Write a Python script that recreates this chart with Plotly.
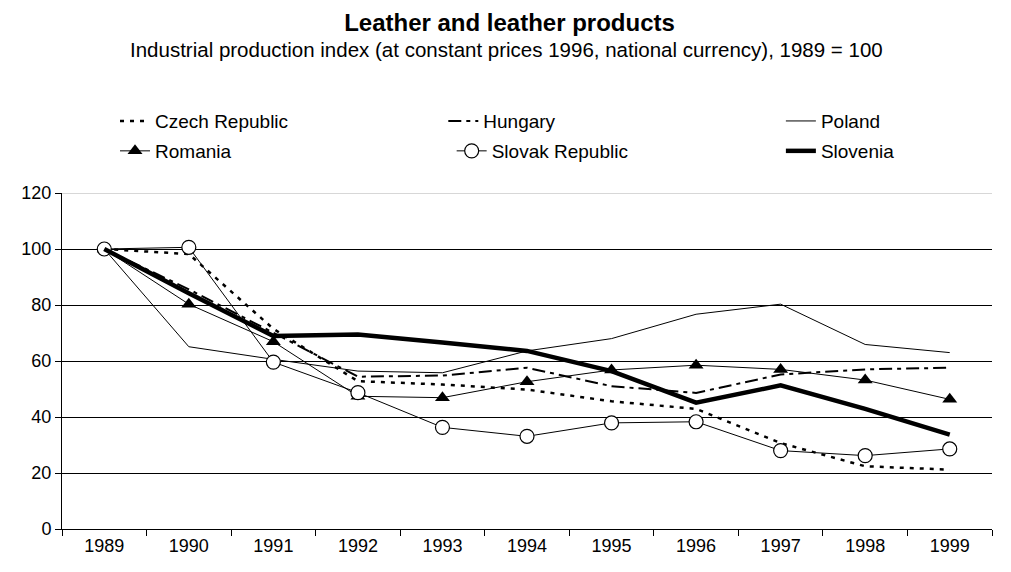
import plotly.graph_objects as go

years = ["1989", "1990", "1991", "1992", "1993", "1994", "1995", "1996", "1997", "1998", "1999"]

czech = [100, 98.2, 71.5, 52.8, 51.6, 49.8, 45.6, 42.9, 30.7, 22.4, 21.2]
hungary = [100, 85.6, 70.1, 54.4, 54.8, 57.6, 51.0, 48.6, 55.2, 57.0, 57.6]
poland = [100, 65.1, 60.6, 56.4, 55.8, 63.6, 68.0, 76.7, 80.3, 65.9, 63.0]
romania = [100, 80.3, 66.9, 47.4, 46.9, 52.6, 56.8, 58.5, 57.0, 53.2, 46.3]
slovak = [100, 100.6, 59.6, 48.7, 36.3, 33.1, 37.9, 38.3, 28.0, 26.2, 28.6]
slovenia = [100, 84.2, 68.9, 69.5, 66.6, 63.6, 56.4, 45.1, 51.3, 42.9, 33.7]

fig = go.Figure()

fig.add_trace(go.Scatter(x=years, y=czech, name="Czech Republic", mode="lines", legend="legend",
                         line=dict(color="black", width=2.5, dash="4px,6px")))
fig.add_trace(go.Scatter(x=years, y=hungary, name="Hungary", mode="lines", legend="legend2",
                         line=dict(color="black", width=2, dash="13px,5px,4px,5px")))
fig.add_trace(go.Scatter(x=years, y=poland, name="Poland", mode="lines", legend="legend3",
                         line=dict(color="black", width=1)))
fig.add_trace(go.Scatter(x=years, y=romania, name="Romania", mode="lines+markers", legend="legend4",
                         line=dict(color="black", width=1),
                         marker=dict(symbol="triangle-up", size=13, color="black")))
fig.add_trace(go.Scatter(x=years, y=slovak, name="Slovak Republic", mode="lines+markers", legend="legend5",
                         line=dict(color="black", width=1),
                         marker=dict(symbol="circle", size=14, color="white",
                                     line=dict(color="black", width=1.2))))
fig.add_trace(go.Scatter(x=years, y=slovenia, name="Slovenia", mode="lines", legend="legend6",
                         line=dict(color="black", width=4.5)))
fig.update_traces(showlegend=True)

# one small legend per entry so the 3 x 2 grid sits where the original has it
leg = dict(font=dict(size=19), yanchor="middle", xanchor="left", bgcolor="rgba(0,0,0,0)",
           itemclick=False, itemdoubleclick=False)

# page body has an 8px margin, so the figure is 8px smaller than the window
fig.update_layout(
    width=1003, height=564,
    margin=dict(l=54, r=19, t=185, b=43),
    showlegend=True,
    paper_bgcolor="white",
    plot_bgcolor="white",
    font=dict(family="Liberation Sans, Arial, sans-serif", color="black", size=18),
    title=dict(
        text="<b>Leather and leather products</b>",
        x=0.5, xanchor="center", y=1 - 15 / 564, yanchor="middle",
        font=dict(size=24),
    ),
    legend=dict(leg, x=0.057, y=1.214),
    legend2=dict(leg, x=0.41, y=1.214),
    legend3=dict(leg, x=0.773, y=1.214),
    legend4=dict(leg, x=0.057, y=1.125),
    legend5=dict(leg, x=0.419, y=1.125),
    legend6=dict(leg, x=0.773, y=1.125),
    xaxis=dict(
        type="category", range=[-0.5, 10.5], showline=True, linecolor="black", linewidth=1,
        ticks="outside", tickson="boundaries", ticklen=6, tickcolor="black",
        showgrid=False, tickfont=dict(size=18),
    ),
    yaxis=dict(
        range=[0, 120], dtick=20, showline=True, linecolor="black", linewidth=1,
        ticks="outside", ticklen=6, tickcolor="black",
        gridcolor="black", gridwidth=1, zeroline=False, tickfont=dict(size=18),
    ),
    annotations=[dict(
        text="Industrial production index (at constant prices 1996, national currency), 1989 = 100",
        xref="paper", yref="paper", x=(506 - 62) / 930, y=1 + (193 - 49) / 336,
        xanchor="center", yanchor="middle", showarrow=False, font=dict(size=20.5),
    )],
    shapes=[dict(type="line", xref="paper", yref="y", x0=0, x1=1, y0=120, y1=120,
                 line=dict(color="#b0b0b0", width=1))],
)

fig.write_html("out.html")
